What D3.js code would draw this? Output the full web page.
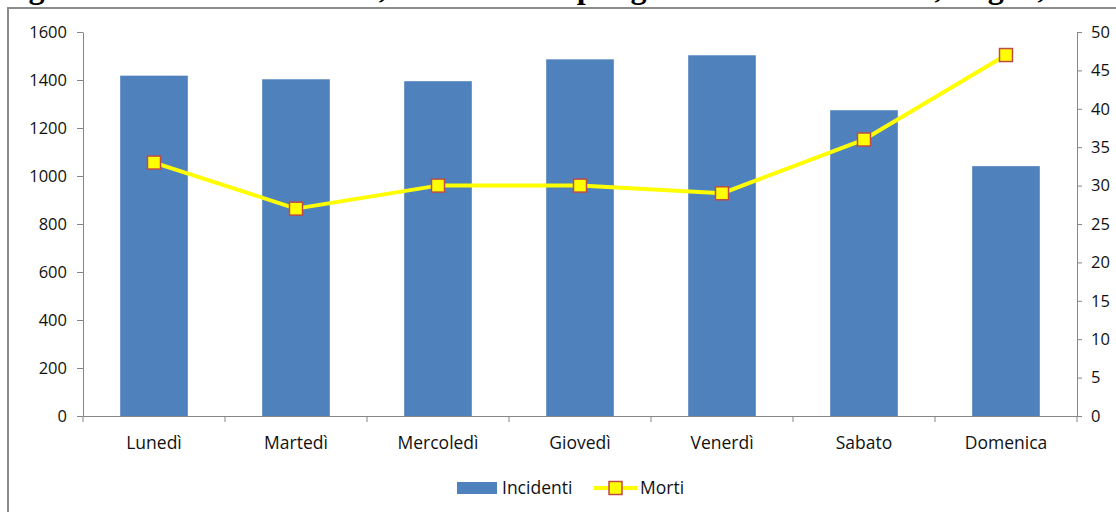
<!DOCTYPE html>
<html>
<head>
<meta charset="utf-8">
<script src="https://cdn.jsdelivr.net/npm/d3@7/dist/d3.min.js"></script>
<style>
  html, body { margin: 0; padding: 0; background: #fff; }
  svg { display: block; }
  .tick text, .lbl { font-family: "Open Sans", "Noto Sans", sans-serif; font-size: 16.5px; fill: #111; }
  .cat .tick text, .lbl { font-size: 17.5px; }
</style>
</head>
<body>
<svg id="chart" width="1116" height="512"></svg>
<script>
// Incidenti stradali e morti per giorno della settimana
const days = ["Lunedì", "Martedì", "Mercoledì", "Giovedì", "Venerdì", "Sabato", "Domenica"];
const incidenti = [1418, 1403, 1395, 1486, 1503, 1274, 1041];
const morti = [33, 27, 30, 30, 29, 36, 47];
const leftTicks = [0, 200, 400, 600, 800, 1000, 1200, 1400, 1600];
const rightTicks = [0, 5, 10, 15, 20, 25, 30, 35, 40, 45, 50];
const titleText = "Figura 3 - Incidenti stradali, morti e feriti per giorno della settimana, Puglia, Anno 2011";

const W = 1116, H = 512;
const margin = { left: 83, right: W - 1077, top: 32, bottom: H - 416 };
const axisColor = "#868686";
const barColor = "#4F81BD";
const lineColor = "#FFFF00";
const markerStroke = "#BE4B48";

const svg = d3.select("#chart");

// Title line above the chart frame (only its lower part falls inside the page)
svg.append("text")
  .attr("x", 0).attr("y", -2)
  .attr("font-family", "'Liberation Serif', 'Times New Roman', serif")
  .attr("font-weight", "bold")
  .attr("font-size", 32)
  .attr("fill", "#000")
  .text(titleText);

// Chart frame
svg.append("rect")
  .attr("x", 8).attr("y", 8)
  .attr("width", W + 20).attr("height", H + 20)
  .attr("fill", "none")
  .attr("stroke", "#8c8c8c")
  .attr("stroke-width", 2);

const x = d3.scaleBand().domain(days).range([margin.left, W - margin.right]).padding(0);
const yL = d3.scaleLinear().domain([0, 1600]).range([H - margin.bottom, margin.top]);
const yR = d3.scaleLinear().domain([0, 50]).range([H - margin.bottom, margin.top]);
const barW = x.bandwidth() / 2.1;

// Bars
svg.append("g").selectAll("rect")
  .data(days)
  .join("rect")
  .attr("x", (d) => x(d) + (x.bandwidth() - barW) / 2)
  .attr("y", (d, i) => yL(incidenti[i]))
  .attr("width", barW)
  .attr("height", (d, i) => yL(0) - yL(incidenti[i]))
  .attr("fill", barColor);

// Left axis
const gL = svg.append("g")
  .attr("transform", `translate(${margin.left},0)`)
  .call(d3.axisLeft(yL).tickValues(leftTicks).tickFormat(d3.format("d"))
    .tickSize(6).tickPadding(10).tickSizeOuter(0));

// Right axis
const gR = svg.append("g")
  .attr("transform", `translate(${W - margin.right},0)`)
  .call(d3.axisRight(yR).tickValues(rightTicks).tickFormat(d3.format("d"))
    .tickSize(5).tickPadding(9).tickSizeOuter(0));

// Category axis: labels at band centres, ticks at band boundaries
const gB = svg.append("g")
  .attr("class", "cat")
  .attr("transform", `translate(0,${yL(0)})`)
  .call(d3.axisBottom(x).tickSize(0).tickPadding(21).tickSizeOuter(0));
const bounds = days.map((d) => x(d)).concat([x.range()[1]]);
gB.selectAll(".bound")
  .data(bounds)
  .join("line")
  .attr("class", "bound")
  .attr("x1", (d) => d).attr("x2", (d) => d)
  .attr("y1", 0).attr("y2", 6)
  .attr("stroke", axisColor);

[gL, gR, gB].forEach((g) => {
  g.selectAll(".domain").attr("stroke", axisColor);
  g.selectAll(".tick line").attr("stroke", axisColor);
});

// Morti line with square markers
const cx = (d) => x(d) + x.bandwidth() / 2;
const line = d3.line().x((d, i) => cx(days[i])).y((d) => yR(d));
svg.append("path")
  .datum(morti)
  .attr("d", line)
  .attr("fill", "none")
  .attr("stroke", lineColor)
  .attr("stroke-width", 4)
  .attr("stroke-linejoin", "round");

const mk = 13;
svg.append("g").selectAll("rect")
  .data(morti)
  .join("rect")
  .attr("x", (d, i) => cx(days[i]) - mk / 2)
  .attr("y", (d) => yR(d) - mk / 2)
  .attr("width", mk).attr("height", mk)
  .attr("fill", lineColor)
  .attr("stroke", markerStroke)
  .attr("stroke-width", 1.5);

// Legend
const leg = svg.append("g");
leg.append("rect").attr("x", 457).attr("y", 482).attr("width", 40).attr("height", 12).attr("fill", barColor);
leg.append("text").attr("class", "lbl").attr("x", 502).attr("y", 494).text("Incidenti");
leg.append("line").attr("x1", 594).attr("x2", 637).attr("y1", 488).attr("y2", 488)
  .attr("stroke", lineColor).attr("stroke-width", 4);
leg.append("rect").attr("x", 609).attr("y", 481.5).attr("width", mk).attr("height", mk)
  .attr("fill", lineColor).attr("stroke", markerStroke).attr("stroke-width", 1.5);
leg.append("text").attr("class", "lbl").attr("x", 640).attr("y", 494).text("Morti");
</script>
</body>
</html>
